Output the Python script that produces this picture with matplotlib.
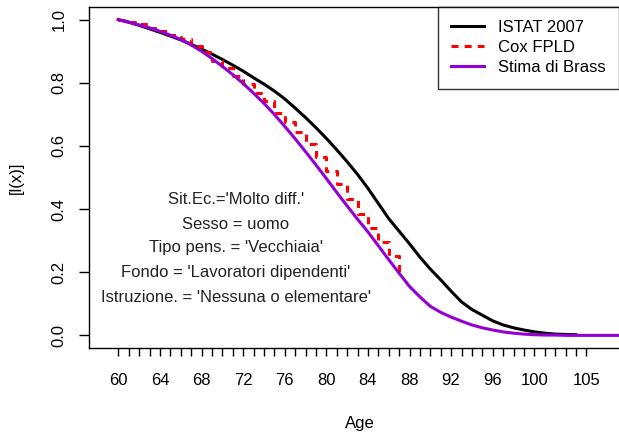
import numpy as np
import matplotlib.pyplot as plt

plt.rcParams['font.family'] = ['Liberation Sans', 'DejaVu Sans']

# ISTAT 2007 survival curve, ages 60..104
eta_istat = list(range(60, 105))
istat = [1.000, 0.992, 0.982, 0.971, 0.960, 0.948, 0.936, 0.922, 0.907, 0.891,
         0.874, 0.856, 0.837, 0.816, 0.796, 0.774, 0.749, 0.720, 0.690, 0.658,
         0.624, 0.588, 0.550, 0.510, 0.466, 0.418, 0.370, 0.330, 0.290, 0.248,
         0.210, 0.176, 0.140, 0.106, 0.082, 0.064, 0.046, 0.033, 0.024, 0.017,
         0.011, 0.007, 0.004, 0.003, 0.002]

# Cox FPLD (step), ages 60..87
eta_cox = list(range(60, 88))
cox = [1.000, 0.993, 0.986, 0.975, 0.965, 0.952, 0.938, 0.918, 0.897, 0.870,
       0.848, 0.822, 0.797, 0.768, 0.742, 0.705, 0.675, 0.645, 0.605, 0.566,
       0.520, 0.478, 0.432, 0.385, 0.340, 0.295, 0.250, 0.195]

# Stima di Brass, ages 60..109
eta_brass = list(range(60, 110))
brass = [1.000, 0.992, 0.983, 0.974, 0.963, 0.951, 0.937, 0.920, 0.900, 0.877,
         0.852, 0.826, 0.798, 0.767, 0.735, 0.700, 0.662, 0.623, 0.582, 0.540,
         0.497, 0.453, 0.410, 0.368, 0.328, 0.284, 0.240, 0.197, 0.155, 0.122,
         0.092, 0.073, 0.058, 0.045, 0.033, 0.024, 0.017, 0.011, 0.007, 0.004,
         0.002, 0.001, 0.001, 0.0, 0.0, 0.0, 0.0, 0.0, 0.0, 0.0]

note = ["Sit.Ec.='Molto diff.'", "Sesso = uomo", "Tipo pens. = 'Vecchiaia'",
        "Fondo = 'Lavoratori dipendenti'", "Istruzione. = 'Nessuna o elementare'"]
note_y = [0.430, 0.351, 0.277, 0.199, 0.119]

W, H = 619, 436
fig = plt.figure(figsize=(W / 100, H / 100), dpi=100)
left, right, top, bottom = 89, 630, 7, 348
ax = fig.add_axes([left / W, 1 - bottom / H, (right - left) / W, (bottom - top) / H])

pxyr = 10.4
x0 = 60 - (118.3 - left) / pxyr
ax.set_xlim(x0, x0 + (right - left) / pxyr)
ax.set_ylim(-0.04, 1.04)

ax.plot(eta_istat, istat, color='black', lw=2.2, label='ISTAT 2007')
ax.step(eta_cox, cox, where='post', color='red', lw=2.2,
        linestyle=(0, (2.3, 2.0)), dash_capstyle='butt', label='Cox FPLD')
ax.plot(eta_brass, brass, color='#9400D3', lw=2.2, label='Stima di Brass')

for t, yy in zip(note, note_y):
    ax.text(71.3, yy, t, ha='center', va='center', fontsize=12, color='#222222')

ticks = list(range(60, 106))
labs = [str(t) if (t <= 100 and t % 4 == 0) or t == 105 else '' for t in ticks]
ax.set_xticks(ticks)
ax.set_xticklabels(labs)
ax.set_yticks([0.0, 0.2, 0.4, 0.6, 0.8, 1.0])
ax.set_yticklabels(['0.0', '0.2', '0.4', '0.6', '0.8', '1.0'], rotation=90, va='center')
ax.tick_params(axis='x', length=6, width=1, pad=12, labelsize=12, direction='out')
ax.tick_params(axis='y', length=7, width=1, pad=9, labelsize=12)
ax.set_xlabel('Age', fontsize=12, labelpad=20)
ax.set_ylabel('[l(x)]', fontsize=12, labelpad=20)
for s in ax.spines.values():
    s.set_linewidth(1.0)

leg = ax.legend(loc='upper right', bbox_to_anchor=((618.5 - left) / (right - left), 1.0),
                fontsize=12, frameon=True, fancybox=False, edgecolor='black',
                handlelength=2.0, handletextpad=0.8, labelspacing=0.3,
                borderpad=0.8, borderaxespad=0)
leg.get_frame().set_linewidth(1.0)

fig.savefig('out.png', dpi=100)
